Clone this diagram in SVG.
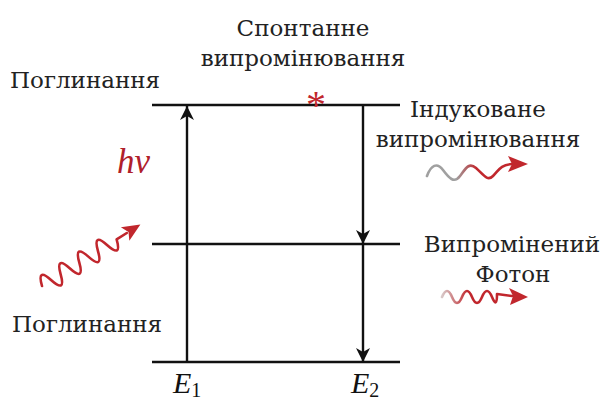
<svg xmlns="http://www.w3.org/2000/svg" width="603" height="401" viewBox="0 0 603 401">
<defs>
<style>
.lbl{font-family:"DejaVu Serif","Liberation Serif",serif;font-size:23px;fill:#222}
.lvl{stroke:#111;stroke-width:2.6;fill:none}
.tr{stroke:#111;stroke-width:2.4;fill:none}
.math{font-family:"Liberation Serif","DejaVu Serif",serif;font-style:italic;fill:#111}
.wave{fill:none;stroke-width:2.6;stroke-linecap:round;stroke-linejoin:round}
</style>
<marker id="ah" viewBox="0 0 14 20" refX="14" refY="10" markerWidth="14" markerHeight="20" markerUnits="userSpaceOnUse" orient="auto">
<path d="M14,10 L0,3 L4,10 L0,17 Z" fill="#111"/>
</marker>
<linearGradient id="g1" gradientUnits="userSpaceOnUse" x1="427" y1="0" x2="510" y2="0">
<stop offset="0" stop-color="#a0a0a0"/><stop offset="0.35" stop-color="#a0a0a0"/><stop offset="0.6" stop-color="#c1272d"/><stop offset="1" stop-color="#c1272d"/>
</linearGradient>
<linearGradient id="g2" gradientUnits="userSpaceOnUse" x1="442" y1="0" x2="500" y2="0">
<stop offset="0" stop-color="#d8c8c8"/><stop offset="0.45" stop-color="#c1272d"/><stop offset="1" stop-color="#c1272d"/>
</linearGradient>
</defs>

<g id="levels">
<line class="lvl" x1="152" y1="105" x2="400" y2="105"/>
<line class="lvl" x1="152" y1="244" x2="400" y2="244"/>
<line class="lvl" x1="152" y1="362" x2="400" y2="362"/>
</g>

<g id="connectors">
<line class="tr" x1="187" y1="362" x2="187" y2="106" marker-end="url(#ah)"/>
<line class="tr" x1="363" y1="105" x2="363" y2="244" marker-end="url(#ah)"/>
<line class="tr" x1="363" y1="244" x2="363" y2="362" marker-end="url(#ah)"/>
</g>

<g id="absorb-top"><text class="lbl" x="10" y="88">Поглинання</text></g>
<g id="absorb-bottom"><text class="lbl" x="12" y="332">Поглинання</text></g>
<g id="spontaneous">
<text class="lbl" x="303" y="36" text-anchor="middle">Спонтанне</text>
<text class="lbl" x="303" y="66" text-anchor="middle">випромінювання</text>
</g>
<g id="star"><text x="316" y="118" text-anchor="middle" font-family="Liberation Serif,serif" font-size="40" fill="#c1272d">*</text></g>
<g id="induced">
<text class="lbl" x="478" y="117" text-anchor="middle">Індуковане</text>
<text class="lbl" x="478" y="147" text-anchor="middle">випромінювання</text>
<path class="wave" stroke="url(#g1)" d="M427,176 C431,165 437,162 443,170 S454,184 460,176 S469,162 476,168 S487,182 493,176 S500,165 512,164"/>
<path d="M528,164 L508,156 L512,164 L508,172 Z" fill="#c1272d"/>
</g>
<g id="emitted">
<text class="lbl" x="512" y="252" text-anchor="middle">Випромінений</text>
<text class="lbl" x="513" y="282" text-anchor="middle">Фотон</text>
<path class="wave" stroke="url(#g2)" d="M442,297 q5,-12 10,0 t10,0 t10,0 t10,0 t10,0 t5,-3 L512,296"/>
<path d="M528,297 L509,288 L513,296 L510,305 Z" fill="#c1272d"/>
</g>
<g id="photon-in">
<g transform="translate(42,286) rotate(-32)">
<path class="wave" stroke="#c1272d" d="M0,0 q5.5,-19 11,0 t11,0 t11,0 t11,0 t11,0 t11,0 t11,0 t11,0 L100,0"/>
<path d="M116,0 L98,-8 L102,0 L98,8 Z" fill="#c1272d"/>
</g>
</g>
<g id="hv"><text x="117" y="173" font-family="Liberation Serif,serif" font-style="italic" font-size="35" fill="#b0202a">hν</text></g>
<g id="E1"><text class="math" x="173" y="393" font-size="30">E<tspan font-style="normal" font-size="20" dy="4">1</tspan></text></g>
<g id="E2"><text class="math" x="351" y="393" font-size="30">E<tspan font-style="normal" font-size="20" dy="4">2</tspan></text></g>
</svg>
